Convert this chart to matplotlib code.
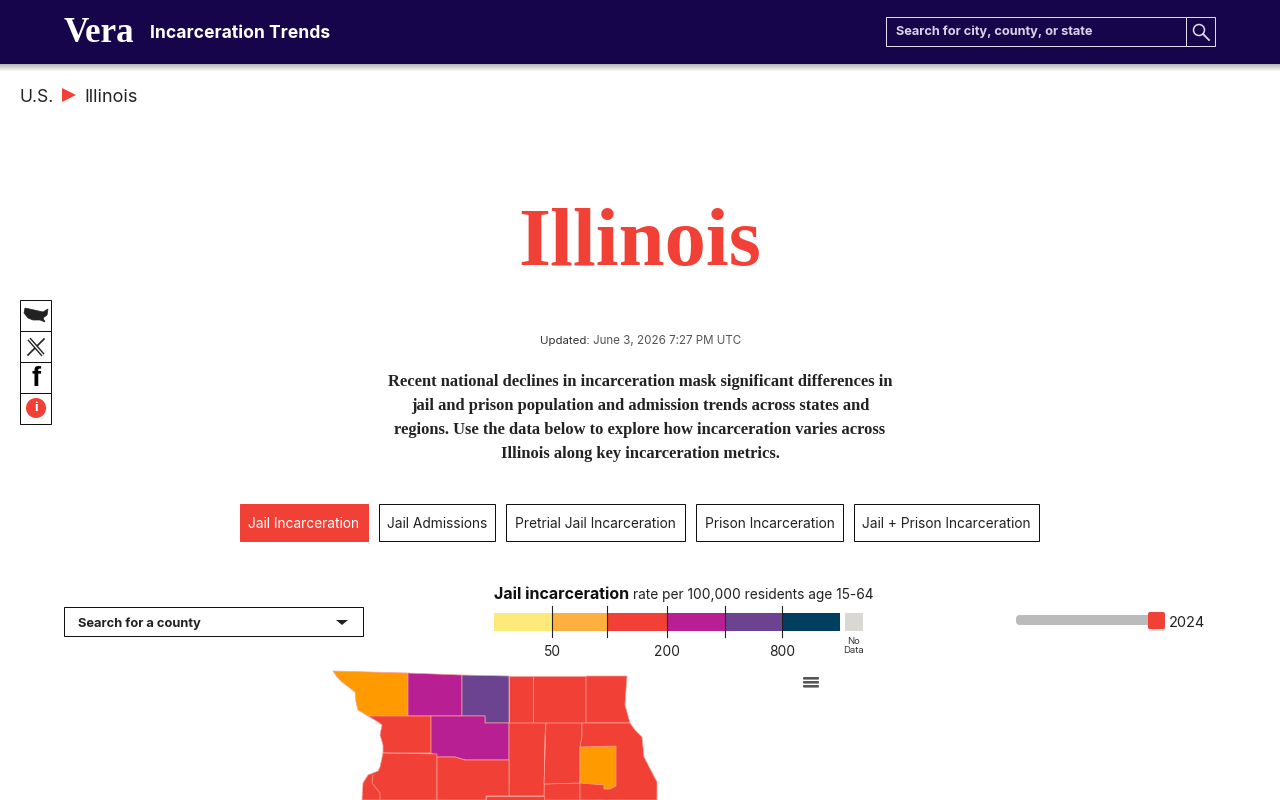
import matplotlib
matplotlib.use("Agg")
import matplotlib.pyplot as plt
from matplotlib.patches import Rectangle, Polygon, FancyBboxPatch, Circle
import numpy as np

SANS = ["Inter", "DejaVu Sans"]
SERIF = ["Liberation Serif", "DejaVu Serif"]

# ---- data ----
page_title = "Illinois"
app_title = "Incarceration Trends"
search_hint = "Search for city, county, or state"
updated_label = "Updated:"
updated_value = "June 3, 2026 7:27 PM UTC"
intro_lines = [
    "Recent national declines in incarceration mask significant differences in",
    "jail and prison population and admission trends across states and",
    "regions. Use the data below to explore how incarceration varies across",
    "Illinois along key incarceration metrics.",
]
tab_labels = ["Jail Incarceration", "Jail Admissions", "Pretrial Jail Incarceration",
              "Prison Incarceration", "Jail + Prison Incarceration"]
tab_edges = [(240, 369), (379, 496), (506, 686), (696, 844), (854, 1040)]
legend_edges = [494, 552, 607, 667, 725, 782, 840]
legend_colors = ["#FEE97B", "#FDB03F", "#F14136", "#B71F92", "#6B4391", "#003F5F"]
legend_tick_pos = [552, 667, 782]
legend_tick_labels = ["50", "200", "800"]
no_data_color = "#D9D8D3"
slider_year = "2024"

map_orange = "#FF9B00"
map_red = "#F14136"
map_magenta = "#B71F92"
map_violet = "#6B4391"
county_colors = [map_orange, map_magenta, map_violet, map_red, map_red, map_red, map_red,
                 map_magenta, map_red, map_red, map_red, map_red, map_red, map_orange]
county_shapes = [
    [(333, 671), (408, 673), (408, 716), (368, 716), (358, 710), (356, 702), (355, 692), (342, 682), (337, 677)],
    [(408, 673), (462, 675), (462, 716), (408, 716)],
    [(462, 675), (509, 676), (509, 723), (485, 723), (485, 716), (462, 716)],
    [(509, 676), (533, 676), (533, 723), (509, 723)],
    [(533, 676), (586, 676), (586, 723), (533, 723)],
    [(586, 676), (627, 676), (626, 690), (625, 705), (630, 723), (586, 723)],
    [(368, 716), (431, 716), (431, 753), (383, 753), (383, 745), (380, 735), (382, 725), (378, 722)],
    [(431, 716), (485, 716), (485, 723), (509, 723), (509, 760), (465, 760), (455, 757), (437, 757), (431, 753)],
    [(509, 723), (546, 723), (545, 736), (544, 796), (509, 796)],
    [(546, 723), (582, 723), (582, 736), (580, 783), (544, 784)],
    [(383, 753), (437, 754), (437, 800), (362, 800), (363, 783), (368, 775), (378, 771), (380, 767)],
    [(437, 757), (455, 757), (465, 760), (509, 760), (509, 796), (486, 796), (486, 800), (437, 800)],
    [(582, 723), (630, 723), (635, 730), (642, 737), (644, 757), (657, 782), (657, 800), (580, 800), (580, 747), (582, 736)],
    [(580, 747), (616, 746), (616, 786), (610, 789), (604, 789), (604, 785), (580, 783)],
]
extra_fill = [[(544, 784), (580, 783), (580, 800), (544, 800)],
              [(486, 796), (544, 796), (544, 800), (486, 800)]]
inner_border = [(373, 775), (372, 783), (380, 793), (380, 800)]
usa_icon = [(25, 308), (34, 310), (43, 312), (48, 309), (47, 315), (43, 318), (45, 322), (40, 320),
            (33, 320), (28, 318), (24, 313)]

# ---- page ----
fig = plt.figure(figsize=(12.8, 8), dpi=100, facecolor="white")
ax = fig.add_axes([0, 0, 1, 1])
ax.set_xlim(0, 1280)
ax.set_ylim(800, 0)
ax.axis("off")


def txt(x, y, s, px, color="#1a1a1a", ha="left", weight="normal", family=None, z=5):
    return ax.text(x, y + 1, s, fontsize=px * 0.72, color=color, ha=ha, va="center",
                   fontweight=weight, family=family or SANS, zorder=z)


def box(x0, y0, x1, y1, fc="white", ec="#111111", lw=0.72, z=2):
    ax.add_patch(Rectangle((x0, y0), x1 - x0, y1 - y0, facecolor=fc, edgecolor=ec, linewidth=lw, zorder=z))


NAVY = "#16054A"
box(0, 0, 1280, 64, fc=NAVY, ec="none")
shadow = np.linspace(0.72, 1, 8)[:, None]
ax.imshow(shadow, extent=(0, 1280, 72, 64), cmap="gray", vmin=0, vmax=1, aspect="auto", zorder=1)
ax.set_xlim(0, 1280)
ax.set_ylim(800, 0)

txt(64, 32.5, "Vera", 35, color="white", weight="bold", family=SERIF)
txt(150, 32, app_title, 17.5, color="white", weight="bold")
box(886, 17, 1186, 46, fc=NAVY, ec="#E3DCEB")
box(1186, 17, 1215, 46, fc=NAVY, ec="#E3DCEB")
txt(896, 30.5, search_hint, 12.8, color="#D9D2E6", weight="bold")
ax.add_patch(Circle((1199, 30), 5.5, fill=False, ec="#E3DCEB", lw=1.1, zorder=4))
ax.plot([1203, 1209], [34, 40], color="#E3DCEB", lw=1.3, zorder=4)

txt(19.5, 96, "U.S.", 17.5, color="#222222")
ax.add_patch(Polygon([(62, 88), (76, 95), (62, 102)], facecolor=map_red, edgecolor="none", zorder=4))
txt(84.5, 96, "Illinois", 18, color="#222222")

txt(640, 244, page_title, 82.5, color=map_red, ha="center", weight="bold", family=SERIF)

txt(540, 340, updated_label, 11.5, color="#333333")
txt(593, 340, updated_value, 11.6, color="#555555")

for line, y in zip(intro_lines, [381, 405, 429, 453]):
    txt(640, y, line, 16.55, color="#222222", ha="center", weight="bold", family=SERIF)

# share rail
for y in [300, 331, 362, 393]:
    box(20, y, 51, y + 31, ec="#111111")
ax.add_patch(Polygon(usa_icon, facecolor="#222222", edgecolor="#222222", lw=0.5, zorder=4))
ax.plot([29, 43], [339, 355], color="#222222", lw=3.0, zorder=4, solid_capstyle="butt")
ax.plot([29, 43], [339, 355], color="white", lw=1.0, zorder=5, solid_capstyle="butt")
ax.plot([44, 28], [339, 355], color="#222222", lw=1.2, zorder=4)
txt(36, 378, "f", 27, color="black", ha="center", weight="bold", family=["Liberation Sans", "DejaVu Sans"])
ax.add_patch(Circle((36, 408), 10, facecolor=map_red, edgecolor="none", zorder=4))
txt(36, 407, "i", 13, color="white", ha="center", weight="bold")

# tabs
for i, (label, (a, b)) in enumerate(zip(tab_labels, tab_edges)):
    active = i == 0
    box(a, 504, b - 1, 541, fc=map_red if active else "white",
        ec=map_red if active else "#111111")
    txt((a + b) / 2 - 0.5, 523, label, 13.75, color="white" if active else "#222222", ha="center")

# county dropdown
box(64, 607, 363, 636, ec="#111111")
txt(78, 622.5, "Search for a county", 12.9, color="#222222", weight="bold")
ax.add_patch(Polygon([(336, 620), (348, 620), (342, 625)], facecolor="#222222", edgecolor="none", zorder=4))

# legend
txt(494, 593.5, "Jail incarceration", 16, color="#111111", weight="bold")
txt(633, 594, "rate per 100,000 residents age 15-64", 13.7, color="#222222")
for a, b, c in zip(legend_edges[:-1], legend_edges[1:], legend_colors):
    ax.add_patch(Rectangle((a, 613), b - a, 18, facecolor=c, edgecolor="none", zorder=3))
for x in legend_edges[1:-1]:
    ax.plot([x, x], [606, 637], color="#222222", lw=0.8, zorder=4)
for x, s in zip(legend_tick_pos, legend_tick_labels):
    txt(x, 651, s, 13.8, color="#222222", ha="center")
ax.add_patch(Rectangle((845, 613), 18, 18, facecolor=no_data_color, edgecolor="none", zorder=3))
txt(854, 640, "No", 9.5, color="#333333", ha="center")
txt(854, 649.5, "Data", 9.5, color="#333333", ha="center")

# slider
ax.add_patch(FancyBboxPatch((1016, 615), 140, 10, boxstyle="round,pad=0,rounding_size=4",
                            facecolor="#BBBBBB", edgecolor="none", zorder=3))
ax.add_patch(FancyBboxPatch((1148, 613), 17, 18, boxstyle="round,pad=0,rounding_size=2",
                            facecolor="#BBBBBB", edgecolor="none", alpha=0.5, zorder=3))
ax.add_patch(FancyBboxPatch((1148, 612), 17, 17, boxstyle="round,pad=0,rounding_size=2",
                            facecolor=map_red, edgecolor="none", zorder=4))
txt(1169, 622, slider_year, 14.5, color="#222222")

# hamburger
for y in [677, 681, 685]:
    ax.add_patch(FancyBboxPatch((803, y), 16, 2.6, boxstyle="round,pad=0,rounding_size=1",
                                facecolor="#555555", edgecolor="none", zorder=4))

# map
for shape in extra_fill:
    ax.add_patch(Polygon(shape, facecolor=map_red, edgecolor="#F98B82", lw=0.5, zorder=3))
for shape, c in zip(county_shapes, county_colors):
    ax.add_patch(Polygon(shape, facecolor=c, edgecolor="#F6A39C", lw=0.5, zorder=3))
ax.plot(*zip(*inner_border), color="#F6A39C", lw=0.5, zorder=4)

fig.savefig("out.png", dpi=100)
